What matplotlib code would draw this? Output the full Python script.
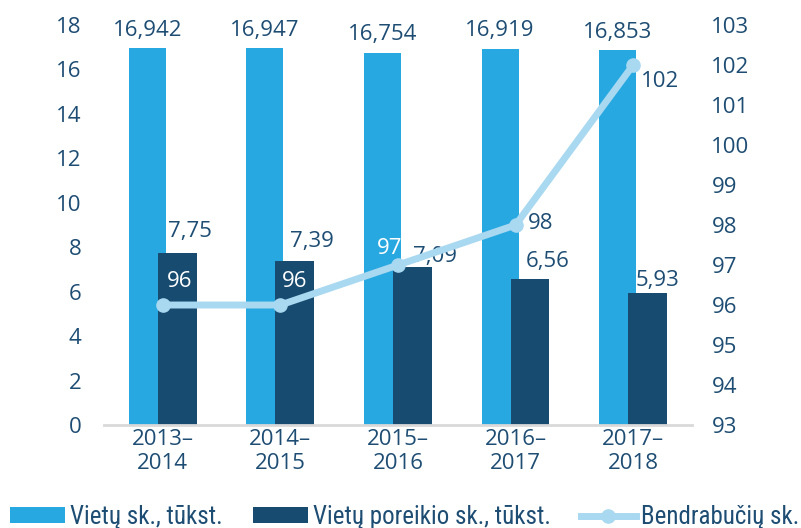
import matplotlib.pyplot as plt
import numpy as np

# duomenys
periods = ['2013–\n2014', '2014–\n2015', '2015–\n2016', '2016–\n2017', '2017–\n2018']
vietos = [16.942, 16.947, 16.754, 16.919, 16.853]
vietos_lbl = ['16,942', '16,947', '16,754', '16,919', '16,853']
poreikis = [7.75, 7.39, 7.09, 6.56, 5.93]
poreikis_lbl = ['7,75', '7,39', '7,09', '6,56', '5,93']
bendrabuciai = [96, 96, 97, 98, 102]

c_light = '#27a8e0'
c_dark = '#174b70'
c_line = '#a9d8f1'
c_text = '#1e4d74'

plt.rcParams['font.family'] = ['Open Sans', 'DejaVu Sans']

fig = plt.figure(figsize=(8.01, 5.28), dpi=100)
ax = fig.add_axes([0.1298, 0.195, 0.7341, 0.7577])
ax2 = ax.twinx()

x = np.arange(len(periods))
b1 = ax.bar(x - 0.132, vietos, width=0.315, color=c_light, zorder=2)
b2 = ax.bar(x + 0.123, poreikis, width=0.33, color=c_dark, zorder=3)

# etikečių poslinkiai (taškais), kaip originale
por_off = [(9, 15), (12, 14), (16, 8), (13, 13), (7, 9)]
for i in range(len(x)):
    ax.annotate(vietos_lbl[i], (x[i] - 0.132, vietos[i]), xytext=(0, 13),
                textcoords='offset points', ha='center', va='center',
                fontsize=16, color=c_text)
    ax.annotate(poreikis_lbl[i], (x[i] + 0.123, poreikis[i]), xytext=por_off[i],
                textcoords='offset points', ha='center', va='center',
                fontsize=16, color=c_text)

ax.set_xlim(-0.5, 4.5)
ax.set_ylim(0, 18)
ax.set_yticks(range(0, 19, 2))
ax.set_xticks(x)
ax.set_xticklabels(periods, fontsize=16, color=c_text, linespacing=1.2)
ax.tick_params(axis='y', length=0, pad=16, labelsize=16, labelcolor=c_text)
ax.tick_params(axis='x', length=0, pad=3)
for s in ['top', 'right', 'left']:
    ax.spines[s].set_visible(False)
ax.spines['bottom'].set_color('#d9d9d9')
ax.spines['bottom'].set_linewidth(2)
ax.spines['bottom'].set_zorder(4)

ln, = ax2.plot(x, bendrabuciai, color=c_line, lw=5, marker='o', ms=9.5, zorder=5)
ax2.set_ylim(93, 103)
ax2.set_yticks(range(93, 104))
ax2.tick_params(axis='y', length=0, pad=14, labelsize=16, labelcolor=c_text)
for s in ax2.spines.values():
    s.set_visible(False)

offs = [(12, 17), (10, 17), (-6, 12), (18, 1), (19, -12)]
cols = ['white', 'white', 'white', c_text, c_text]
for i in range(len(x)):
    ax2.annotate(str(bendrabuciai[i]), (x[i], bendrabuciai[i]), xytext=offs[i],
                 textcoords='offset points', ha='center', va='center',
                 fontsize=16, color=cols[i], zorder=6)

fig.legend([b1, b2, ln], ['Vietų sk., tūkst.', 'Vietų poreikio sk., tūkst.', 'Bendrabučių sk.'],
           loc='center left', bbox_to_anchor=(0.0125, 0.021), ncol=3, frameon=False,
           labelcolor=c_text, handlelength=2.2, handleheight=0.6, handletextpad=0.2,
           columnspacing=1.2, borderpad=0, borderaxespad=0,
           prop={'family': ['Ubuntu Condensed', 'Roboto Condensed', 'DejaVu Sans'], 'size': 18})

fig.savefig('out.png', dpi=100)
